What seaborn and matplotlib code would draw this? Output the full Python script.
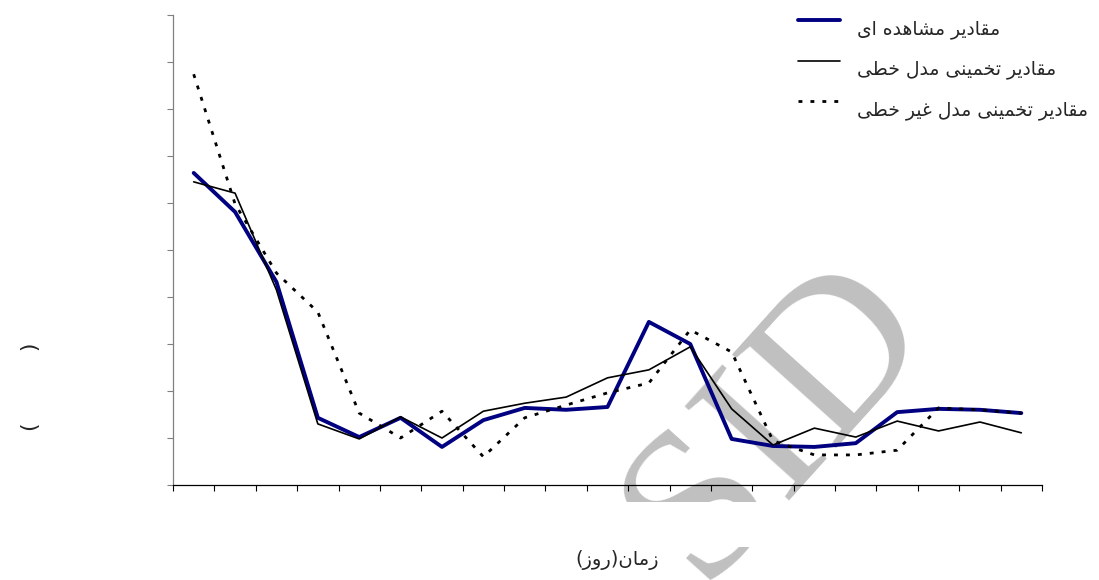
import numpy as np
import pandas as pd
import matplotlib
matplotlib.use("Agg")
import matplotlib.pyplot as plt
import seaborn as sns
from matplotlib.patches import Rectangle

# ---- data -------------------------------------------------------------
days = list(range(1, 22))
observed = [6.64, 5.81, 4.32, 1.43, 1.02, 1.43, 0.81, 1.38, 1.64, 1.60, 1.66,
            3.47, 3.00, 0.98, 0.83, 0.81, 0.89, 1.55, 1.62, 1.60, 1.53]
linear_model = [6.45, 6.21, 4.15, 1.30, 0.98, 1.45, 1.00, 1.57, 1.74, 1.87, 2.28,
                2.45, 2.94, 1.62, 0.85, 1.21, 1.02, 1.36, 1.15, 1.34, 1.11]
nonlinear_model = [8.74, 5.98, 4.51, 3.68, 1.53, 1.00, 1.57, 0.60, 1.43, 1.70, 1.96,
                   2.17, 3.30, 2.83, 0.94, 0.64, 0.64, 0.74, 1.64, 1.60, 1.53]

series_names = ["مقادیر مشاهده ای", "مقادیر تخمینی مدل خطی", "مقادیر تخمینی مدل غیر خطی"]
x_title = "زمان(روز)"
y_title = "(" + " " * 10 + ")"

# ---- minimal Arabic/Persian shaping (presentation forms + RTL order) ----
FORMS = {
    "ا": ("\uFE8D", "\uFE8E", None, None),
    "د": ("\uFEA9", "\uFEAA", None, None),
    "ر": ("\uFEAD", "\uFEAE", None, None),
    "ز": ("\uFEAF", "\uFEB0", None, None),
    "و": ("\uFEED", "\uFEEE", None, None),
    "م": ("\uFEE1", "\uFEE2", "\uFEE3", "\uFEE4"),
    "ق": ("\uFED5", "\uFED6", "\uFED7", "\uFED8"),
    "ش": ("\uFEB5", "\uFEB6", "\uFEB7", "\uFEB8"),
    "ه": ("\uFEE9", "\uFEEA", "\uFEEB", "\uFEEC"),
    "ت": ("\uFE95", "\uFE96", "\uFE97", "\uFE98"),
    "خ": ("\uFEA5", "\uFEA6", "\uFEA7", "\uFEA8"),
    "ن": ("\uFEE5", "\uFEE6", "\uFEE7", "\uFEE8"),
    "ل": ("\uFEDD", "\uFEDE", "\uFEDF", "\uFEE0"),
    "ط": ("\uFEC1", "\uFEC2", "\uFEC3", "\uFEC4"),
    "غ": ("\uFECD", "\uFECE", "\uFECF", "\uFED0"),
    "ی": ("\uFEEF", "\uFEF0", "\uFEF3", "\uFEF4"),
}
MIRROR = {"(": ")", ")": "("}


def rtl(text):
    out = []
    for i, ch in enumerate(text):
        if ch not in FORMS:
            out.append(ch)
            continue
        prev = text[i - 1] if i > 0 else None
        nxt = text[i + 1] if i + 1 < len(text) else None
        iso, fin, ini, med = FORMS[ch]
        join_prev = prev in FORMS and FORMS[prev][2] is not None
        join_next = nxt in FORMS and ini is not None
        if join_prev and join_next:
            out.append(med)
        elif join_prev:
            out.append(fin)
        elif join_next:
            out.append(ini)
        else:
            out.append(iso)
    return "".join(MIRROR.get(c, c) for c in reversed(out))


# ---- figure -----------------------------------------------------------
sns.set_theme(style="white")
plt.rcParams["font.family"] = ["DejaVu Sans"]

fig = plt.figure(figsize=(10.99, 5.80), dpi=100)
ax = fig.add_axes([173 / 1099, 1 - 485 / 580, (1042 - 173) / 1099, (485 - 15) / 580])
ax.patch.set_alpha(0)

# faint diagonal watermark behind the plot
fig.text(778 / 1099, 1 - 420 / 580, "SID", rotation=48, fontsize=155,
         family="Liberation Serif", color="#c0c0c0", ha="center", va="center",
         zorder=-2)
fig.patches.append(Rectangle((0, 1 - 547 / 580), 1, 45 / 580, transform=fig.transFigure,
                             facecolor="white", edgecolor="none", zorder=-1))

df = pd.DataFrame({"day": days, "obs": observed, "lin": linear_model, "non": nonlinear_model})
pos = np.arange(len(days))

sns.lineplot(x=pos, y=df["obs"], ax=ax, color="#000080", linewidth=2.8,
             label=series_names[0])
sns.lineplot(x=pos, y=df["lin"], ax=ax, color="black", linewidth=1.2,
             label=series_names[1])
sns.lineplot(x=pos, y=df["non"], ax=ax, color="black", linewidth=2.0,
             label=series_names[2])
ax.lines[2].set_dashes((1.4, 2.9))

ax.set_xlim(-0.5, len(days) - 0.5)
ax.set_ylim(0, 10)
ax.set_xticks(np.arange(-0.5, len(days), 1.0))
ax.set_yticks(np.arange(0, 11, 1))
ax.set_xticklabels([])
ax.set_yticklabels([])
ax.tick_params(axis="x", direction="out", length=4.5, width=0.8, color="black", bottom=True)
ax.tick_params(axis="y", direction="out", length=4.5, width=0.8, color="#808080", left=True)
for side in ("top", "right"):
    ax.spines[side].set_visible(False)
ax.spines["left"].set_color("#808080")
ax.spines["bottom"].set_color("black")
ax.spines["left"].set_linewidth(0.9)
ax.spines["bottom"].set_linewidth(0.9)
ax.grid(False)

ax.set_xlabel(rtl(x_title), fontsize=14)
ax.xaxis.set_label_coords((617 - 173) / 869, (485 - 550) / 470)
ax.set_ylabel(y_title, fontsize=16)
ax.yaxis.set_label_coords(-0.152, 0.21)

handles = ax.lines[:3]
labels = ["\n" + rtl(s) for s in series_names]
leg = ax.legend(handles, labels, loc="upper left", bbox_to_anchor=(798 / 1099, 1.0),
                bbox_transform=fig.transFigure, frameon=False, fontsize=13.5,
                handlelength=2.24, handletextpad=0.9, borderpad=0, borderaxespad=0,
                labelspacing=0.1)
for t in leg.get_texts():
    t.set_linespacing(1.0)

fig.savefig("out.png", dpi=100)
